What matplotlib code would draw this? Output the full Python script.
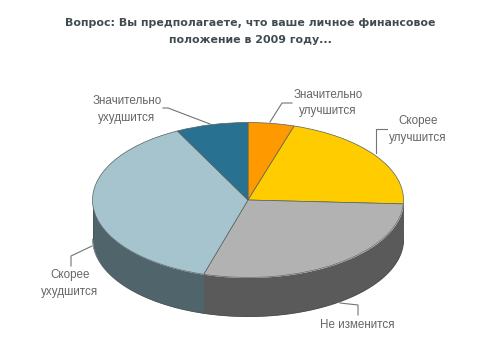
import numpy as np
import matplotlib
matplotlib.use('Agg')
import matplotlib.pyplot as plt

# share of each slice, clockwise from the top, percent
labels = ["Значительно\nулучшится", "Скорее\nулучшится", "Не изменится", "Скорее\nухудшится", "Значительно\nухудшится"]
values = [4.8, 21.0, 28.8, 37.9, 7.5]
top_colors = ['#ff9900', '#ffcc00', '#b2b2b2', '#a6c4ce', '#297190']
side_colors = ['#a86500', '#5a5a5a', '#5a5a5a', '#50646b', '#1b4b5f']

title = "Вопрос: Вы предполагаете, что ваше личное финансовое\nположение в 2009 году..."

W, H = 500, 363
cx, cy, rx, ry, depth = 248, 200, 155.5, 77.5, 39

fig = plt.figure(figsize=(W/100, H/100), dpi=100)

# pie axes: unit circle stretched to the ellipse in pixels
axPie = fig.add_axes([0, 0, 1, 1])
wedges, _ = axPie.pie(values, colors=top_colors, startangle=90, counterclock=False,
                      wedgeprops={'edgecolor': '#55605f', 'linewidth': 0.5, 'zorder': 3})
axPie.set_aspect('auto')
axPie.set_xlim(-cx/rx, (W-cx)/rx)
axPie.set_ylim((cy-H)/ry, cy/ry)
axPie.axis('off')

# side wall, only the front half of the rim shows
d = depth/ry
edges = np.cumsum([0] + values) / sum(values) * 360
for a, b, c in zip(edges[:-1], edges[1:], side_colors):
    lo, hi = max(a, 90), min(b, 270)
    if lo >= hi:
        continue
    t = np.radians(np.linspace(lo, hi, 80))
    axPie.fill_between(np.sin(t), np.cos(t), np.cos(t)-d, color=c, lw=0, zorder=1)
    axPie.plot(np.sin(t), np.cos(t)-d, color='#4a4f50', lw=0.4, zorder=2)
    axPie.plot([np.sin(t[-1])]*2, [np.cos(t[-1]), np.cos(t[-1])-d], color='#3f4a4c', lw=0.4, zorder=2)

# overlay in pixel coordinates for text and leaders
ax = fig.add_axes([0, 0, 1, 1], zorder=5)
ax.set_xlim(0, W)
ax.set_ylim(H, 0)
ax.axis('off')
ax.patch.set_alpha(0)

ax.text(250, 31.5, title, ha='center', va='center', fontsize=7.9, fontweight='bold',
        color='#3f4b50', family='DejaVu Sans', linespacing=1.87)

label_pos = [(328, 103), (418, 129.5), (357, 325), (70, 283.5), (127, 109.5)]
leaders = [[(270, 122), (282, 103), (292, 103)],
           [(376, 153), (376, 129), (387, 129)],
           [(340, 303), (358, 305), (358, 315)],
           [(92, 246), (71, 256), (71, 266)],
           [(210, 124), (168, 108), (163, 108)]]

for s, p, l in zip(labels, label_pos, leaders):
    ax.text(p[0], p[1], s, ha='center', va='center', fontsize=8.4, color='#666666',
            family='Liberation Sans', linespacing=1.45)
    xs, ys = zip(*l)
    ax.plot(xs, ys, color='#6f7678', lw=0.8)

fig.savefig('out.png', dpi=100, facecolor='white')
